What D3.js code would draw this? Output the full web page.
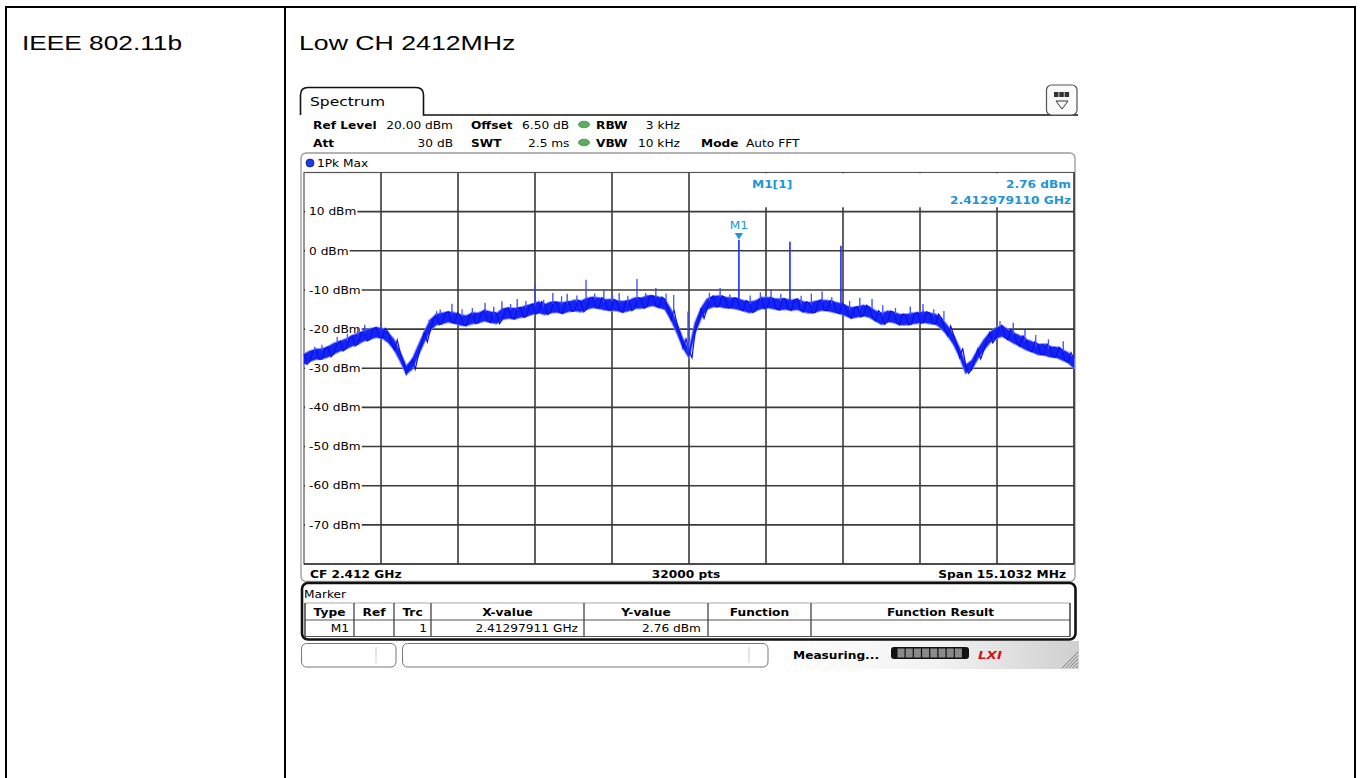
<!DOCTYPE html>
<html><head><meta charset="utf-8">
<script src="https://cdn.jsdelivr.net/npm/d3@7"></script>
<style>html,body{margin:0;padding:0;background:#fff;overflow:hidden}</style>
</head><body><svg id="c" width="1362" height="778"></svg>
<script>
// ---------------- data ----------------
const pageLabels = ["IEEE 802.11b", "Low CH 2412MHz"];
const centerGHz = 2.412;
const spanMHz = 15.1032;
const sweepPoints = 32000;
const refLevel = 20;
const bottomLevel = -80;
const yTicks = [10, 0, -10, -20, -30, -40, -50, -60, -70];
const yTickLabels = ["10 dBm", "0 dBm", "-10 dBm", "-20 dBm", "-30 dBm", "-40 dBm", "-50 dBm", "-60 dBm", "-70 dBm"];
// trace noise band (dBm): upper and lower edge, 129 evenly spaced samples across the span
const traceUpper = [
 -26.4,-25.6,-25.2,-25.0,-24.5,-23.6,-23.1,-22.5,-21.7,-21.0,
 -20.5,-19.9,-19.6,-19.8,-20.9,-22.8,-26.0,-29.4,-27.7,-24.2,
 -20.7,-17.6,-16.2,-15.9,-15.6,-15.8,-16.4,-16.6,-15.8,-15.9,
 -15.2,-15.6,-16.0,-14.8,-14.6,-14.7,-14.5,-14.0,-13.6,-13.0,
 -13.7,-13.1,-13.1,-13.2,-13.0,-12.6,-12.9,-12.1,-11.9,-12.0,
 -12.5,-12.4,-12.8,-12.9,-12.7,-12.0,-12.1,-11.5,-11.5,-11.8,
 -12.4,-15.0,-18.6,-22.5,-25.4,-18.4,-14.7,-12.3,-11.6,-11.5,
 -11.9,-12.0,-12.2,-12.7,-13.1,-12.8,-12.0,-11.9,-12.2,-12.3,
 -12.3,-12.6,-12.3,-13.0,-13.3,-12.9,-12.6,-12.7,-13.0,-13.4,
 -14.0,-14.5,-14.3,-13.9,-14.4,-15.3,-16.1,-15.4,-15.7,-16.2,
 -16.3,-16.0,-15.8,-15.6,-15.9,-16.2,-17.3,-19.2,-21.6,-24.9,
 -29.2,-28.0,-25.2,-22.8,-20.9,-19.7,-19.1,-20.1,-21.0,-21.7,
 -22.6,-23.2,-23.9,-23.8,-24.5,-24.6,-25.3,-26.0,-27.6
];
const traceLower = [
 -29.0,-28.2,-27.7,-27.6,-27.1,-26.3,-25.6,-25.0,-24.3,-23.8,
 -23.0,-22.6,-22.1,-22.3,-23.4,-25.3,-28.2,-31.5,-30.2,-26.7,
 -23.3,-20.3,-18.9,-18.6,-18.2,-18.5,-19.0,-19.1,-18.6,-18.4,
 -17.9,-18.3,-18.6,-17.5,-17.2,-17.4,-17.0,-16.7,-16.2,-15.8,
 -16.3,-15.8,-15.7,-16.0,-15.5,-15.3,-15.6,-14.9,-14.5,-14.7,
 -15.1,-15.2,-15.3,-15.7,-15.3,-14.7,-14.7,-14.3,-14.0,-14.5,
 -15.0,-17.6,-21.0,-24.8,-27.3,-21.0,-17.3,-14.9,-14.3,-14.2,
 -14.6,-14.6,-14.9,-15.3,-15.8,-15.4,-14.8,-14.5,-14.8,-15.1,
 -14.9,-15.2,-15.0,-15.6,-15.9,-15.7,-15.2,-15.3,-15.7,-16.0,
 -16.6,-17.2,-16.9,-16.6,-17.0,-17.9,-18.8,-18.1,-18.3,-18.9,
 -18.9,-18.7,-18.5,-18.3,-18.6,-18.7,-19.9,-21.7,-24.0,-27.2,
 -31.3,-30.3,-27.6,-25.4,-23.5,-22.4,-21.8,-22.7,-23.6,-24.4,
 -25.3,-25.8,-26.5,-26.6,-27.1,-27.2,-27.9,-28.5,-30.0
];
// spurs: offset from CF (MHz) and peak level (dBm)
const spurOffsetMHz = [-7.34,-6.36,-6.04,-4.88,-4.65,-4.00,-3.83,-3.67,-3.37,-3.02,-2.67,-2.39,-2.02,-1.67,-1.37,-1.02,-0.65,-0.02,0.61,0.979,1.61,1.98,2.61,2.98,3.35,3.59,4.34,4.59,6.36,6.59,7.34];
const spurPeakDbm   = [-24.5,-18.9,-18.4,-15.0,-13.5,-13.3,-14.3,-12.9,-12.3,-8.6,-10.8,-11.0,-7.4,-9.9,-10.8,-7.2,-9.5,-15.5,-9.5,2.76,-9.9,2.3,-10.4,1.3,-12.0,-12.3,-14.2,-13.6,-18.4,-20.2,-23.1];
// small noise peaks above the band
const noiseOffsetMHz = [-7.2,-6.9,-6.7,-6.5,-5.1,-4.95,-4.45,-4.25,-3.5,-3.2,-2.85,-2.5,-2.2,-1.85,-1.5,-1.2,-0.85,-0.45,-0.3,0.4,0.8,1.2,1.4,1.8,2.2,2.4,2.8,3.15,3.8,4.05,4.8,5.0,6.1,6.8,7.05];
const noisePeakDbm   = [-24.0,-22.0,-21.2,-19.6,-17.6,-15.4,-14.9,-14.6,-13.6,-12.8,-12.5,-11.6,-11.4,-10.9,-11.2,-11.5,-10.8,-10.9,-11.3,-10.7,-11.1,-11.4,-10.6,-11.0,-11.5,-10.9,-11.8,-12.8,-13.9,-14.6,-14.9,-15.4,-17.9,-21.5,-22.6];
const markerFreqGHz = 2.41297911;
const markerLevel = 2.76;
const tableHeaders = ["Type", "Ref", "Trc", "X-value", "Y-value", "Function", "Function Result"];
const tableRow = ["M1", "", "1", "2.41297911 GHz", "2.76 dBm", "", ""];

// ---------------- drawing ----------------
const svg = d3.select("#c");
const SX = 1.22;
const UI = "'DejaVu Sans', Verdana, sans-serif";
function t(g, x, y, s, o = {}) {
  return g.append("text")
    .attr("transform", `translate(${x},${y}) scale(${o.sx || SX},1)`)
    .attr("font-family", o.ff || UI)
    .attr("font-size", o.size || 10)
    .attr("font-weight", o.bold ? "bold" : "normal")
    .attr("font-style", o.italic ? "italic" : "normal")
    .attr("text-anchor", o.anchor || "start")
    .attr("fill", o.fill || "#000")
    .text(s);
}

// page table
const pg = svg.append("g");
pg.append("line").attr("x1", 5).attr("x2", 1356).attr("y1", 7).attr("y2", 7).attr("stroke", "#000").attr("stroke-width", 2);
[6, 285, 1355].forEach(x => pg.append("line").attr("x1", x).attr("x2", x).attr("y1", 6).attr("y2", 778).attr("stroke", "#000").attr("stroke-width", 2));
t(pg, 22, 50, pageLabels[0], {ff: "Arial, 'Liberation Sans', sans-serif", size: 21, sx: 1.25});
t(pg, 299, 50, pageLabels[1], {ff: "Arial, 'Liberation Sans', sans-serif", size: 21, sx: 1.27});

// instrument frame
const ui = svg.append("g");
ui.append("path").attr("d", "M300.5,115 V95 Q300.5,87.5 308,87.5 H416 Q423.5,87.5 423.5,95 V115 H1078")
  .attr("fill", "none").attr("stroke", "#111").attr("stroke-width", 1.6);
t(ui, 310, 106, "Spectrum", {size: 12.7});
ui.append("rect").attr("x", 1046.5).attr("y", 85).attr("width", 30.5).attr("height", 30).attr("rx", 5)
  .attr("fill", "#fafafa").attr("stroke", "#555").attr("stroke-width", 1.2);
[0, 1, 2].forEach(k => ui.append("rect").attr("x", 1054 + k * 5.3).attr("y", 92).attr("width", 4.5).attr("height", 5).attr("fill", "#333"));
ui.append("path").attr("d", "M1056,101 H1068 L1062,109 Z").attr("fill", "none").attr("stroke", "#333").attr("stroke-width", 1);

// header settings
t(ui, 313, 129, "Ref Level", {bold: true});
t(ui, 453, 129, "20.00 dBm", {anchor: "end"});
t(ui, 471, 129, "Offset", {bold: true});
t(ui, 522, 129, "6.50 dB");
t(ui, 596, 129, "RBW", {bold: true});
t(ui, 680, 129, "3 kHz", {anchor: "end"});
t(ui, 313, 147, "Att", {bold: true});
t(ui, 453, 147, "30 dB", {anchor: "end"});
t(ui, 471, 147, "SWT", {bold: true});
t(ui, 528, 147, "2.5 ms");
t(ui, 596, 147, "VBW", {bold: true});
t(ui, 680, 147, "10 kHz", {anchor: "end"});
t(ui, 701, 147, "Mode", {bold: true});
t(ui, 746, 147, "Auto FFT");
[124.5, 142.5].forEach(cy => ui.append("ellipse").attr("cx", 584).attr("cy", cy).attr("rx", 5.5).attr("ry", 3.3)
  .attr("fill", "#5fae5f").attr("stroke", "#3f8a3f").attr("stroke-width", 0.8));

// trace label box + plot box
ui.append("rect").attr("x", 301).attr("y", 153).attr("width", 774).attr("height", 428.5).attr("rx", 5)
  .attr("fill", "#fff").attr("stroke", "#9a9a9a").attr("stroke-width", 1.3);
ui.append("circle").attr("cx", 310).attr("cy", 163).attr("r", 4).attr("fill", "#1d3be8").attr("stroke", "#0a1a80").attr("stroke-width", 0.8);
t(ui, 317, 167, "1Pk Max");

const x = d3.scaleLinear().domain([-spanMHz / 2, spanMHz / 2]).range([304, 1074]);
const y = d3.scaleLinear().domain([bottomLevel, refLevel]).range([564, 172.5]);

const plot = svg.append("g");
plot.append("rect").attr("x", 304).attr("y", 172.5).attr("width", 770).attr("height", 391.5)
  .attr("fill", "#fff").attr("stroke", "#555").attr("stroke-width", 1.2);
d3.range(1, 10).forEach(k => {
  const xv = x(-spanMHz / 2 + k * spanMHz / 10);
  plot.append("line").attr("x1", xv).attr("x2", xv).attr("y1", 172.5).attr("y2", 564).attr("stroke", "#3a3a3a").attr("stroke-width", 1.6);
});
yTicks.forEach((v, i) => {
  const yv = y(v);
  plot.append("line").attr("x1", 304).attr("x2", 1074).attr("y1", yv).attr("y2", yv).attr("stroke", "#3a3a3a").attr("stroke-width", 1.6);
  const bg = plot.append("rect").attr("fill", "#fff");
  const tx = t(plot, 309, yv + 3.7, yTickLabels[i]);
  const bb = tx.node().getBBox();
  bg.attr("x", 305).attr("y", yv - 6).attr("width", bb.width * SX + 5).attr("height", 12);
});
plot.append("rect").attr("x", 690).attr("y", 173.3).attr("width", 383.5).attr("height", 34).attr("fill", "#fff");
plot.append("line").attr("x1", 1074).attr("x2", 1074).attr("y1", 172.5).attr("y2", 564).attr("stroke", "#333").attr("stroke-width", 1.4);
const MB = "#2196d6";
t(plot, 752, 188, "M1[1]", {bold: true, fill: MB});
t(plot, 1071, 188, markerLevel.toFixed(2) + " dBm", {bold: true, fill: MB, anchor: "end"});
t(plot, 1071, 204, "2.412979110 GHz", {bold: true, fill: MB, anchor: "end"});

// trace band
const stepMHz = spanMHz / (traceUpper.length - 1);
const fAt = i => -spanMHz / 2 + i * stepMHz;
const band = traceUpper.map((u, i) => ({f: fAt(i), hi: u, lo: traceLower[i]}));
const area = d3.area().x(d => x(d.f)).y0(d => y(d.lo)).y1(d => y(d.hi));
// soft halo, then solid core, then zig-zag texture
plot.append("path").datum(band).attr("d", area).attr("fill", "#5566ff")
  .attr("stroke", "#6f7cff").attr("stroke-width", 2.2).attr("stroke-linejoin", "round").attr("stroke-opacity", 0.8);
plot.append("path").datum(band).attr("d", area).attr("fill", "#1424f4");
const zz = [];
band.forEach((d, i) => { zz.push([d.f, i % 2 ? d.lo : d.hi]); zz.push([d.f + stepMHz / 2, i % 2 ? d.hi : d.lo]); });
zz.pop();
plot.append("path").datum(zz).attr("d", d3.line().x(d => x(d[0])).y(d => y(d[1])))
  .attr("fill", "none").attr("stroke", "#0a10ea").attr("stroke-width", 1.2);

const idxOf = f => Math.max(0, Math.min(traceUpper.length - 1, Math.round((f + spanMHz / 2) / stepMHz)));
noiseOffsetMHz.forEach((f, i) => {
  plot.append("line").attr("x1", x(f)).attr("x2", x(f)).attr("y1", y(traceUpper[idxOf(f)]) + 2).attr("y2", y(noisePeakDbm[i]))
    .attr("stroke", "#4455ff").attr("stroke-width", 1.3);
});
spurOffsetMHz.forEach((f, i) => {
  const tall = spurPeakDbm[i] > -5;
  plot.append("line").attr("x1", x(f)).attr("x2", x(f)).attr("y1", y(traceUpper[idxOf(f)]) + 2).attr("y2", y(spurPeakDbm[i]))
    .attr("stroke", tall ? "#1a2cff" : "#3546ff").attr("stroke-width", tall ? 1.6 : 1.3);
});
// marker M1
const mx = x((markerFreqGHz - centerGHz) * 1000);
plot.append("path").attr("d", `M${mx - 4.2},${y(markerLevel) - 7} H${mx + 4.2} L${mx},${y(markerLevel) - 0.5} Z`).attr("fill", MB);
t(plot, mx, 229, "M1", {fill: MB, anchor: "middle"});

// bottom info bar
plot.append("line").attr("x1", 304).attr("x2", 1074).attr("y1", 564).attr("y2", 564).attr("stroke", "#333").attr("stroke-width", 1.4);
t(plot, 310, 577.5, "CF " + centerGHz.toFixed(3) + " GHz", {bold: true});
t(plot, 686, 577.5, sweepPoints + " pts", {bold: true, anchor: "middle"});
t(plot, 1066, 577.5, "Span " + spanMHz.toFixed(4) + " MHz", {bold: true, anchor: "end"});

// marker table
const tb = svg.append("g");
tb.append("rect").attr("x", 302).attr("y", 583).attr("width", 773.5).attr("height", 56.5).attr("rx", 6)
  .attr("fill", "#fff").attr("stroke", "#111").attr("stroke-width", 2.6);
t(tb, 304, 597.5, "Marker");
const cols = [305, 354, 394, 431, 584, 708, 811, 1070];
tb.append("line").attr("x1", 305).attr("x2", 1070).attr("y1", 603).attr("y2", 603).attr("stroke", "#aaa").attr("stroke-width", 1.2);
tb.append("line").attr("x1", 305).attr("x2", 1070).attr("y1", 620).attr("y2", 620).attr("stroke", "#555").attr("stroke-width", 1.2);
tb.append("line").attr("x1", 305).attr("x2", 1070).attr("y1", 636.5).attr("y2", 636.5).attr("stroke", "#555").attr("stroke-width", 1.2);
cols.forEach((cx, i) => tb.append("line").attr("x1", cx).attr("x2", cx).attr("y1", 603).attr("y2", 636.5)
  .attr("stroke", i === 0 || i === cols.length - 1 ? "#222" : "#444").attr("stroke-width", 1.3));
tableHeaders.forEach((h, i) => t(tb, (cols[i] + cols[i + 1]) / 2, 616, h, {bold: true, anchor: "middle"}));
const rowAnchor = [349, null, 427, 578, 701, null, null];
tableRow.forEach((v, i) => { if (v) t(tb, rowAnchor[i], 632, v, {anchor: "end"}); });

// status bar
const st = svg.append("g");
const grad = svg.append("defs").append("linearGradient").attr("id", "sg").attr("x1", "0").attr("x2", "1");
grad.append("stop").attr("offset", "0").attr("stop-color", "#ffffff");
grad.append("stop").attr("offset", "0.55").attr("stop-color", "#f2f2f2");
grad.append("stop").attr("offset", "1").attr("stop-color", "#cfcfcf");
st.append("rect").attr("x", 770).attr("y", 641).attr("width", 309).attr("height", 28).attr("fill", "url(#sg)");
st.append("rect").attr("x", 301.5).attr("y", 643.5).attr("width", 94.5).attr("height", 23.5).attr("rx", 5).attr("fill", "#fff").attr("stroke", "#777");
st.append("line").attr("x1", 376).attr("x2", 376).attr("y1", 647).attr("y2", 663).attr("stroke", "#ccc");
st.append("rect").attr("x", 402.5).attr("y", 643.5).attr("width", 365.5).attr("height", 23.5).attr("rx", 5).attr("fill", "#fff").attr("stroke", "#777");
st.append("line").attr("x1", 749).attr("x2", 749).attr("y1", 647).attr("y2", 663).attr("stroke", "#ccc");
t(st, 793, 659, "Measuring...", {bold: true});
st.append("rect").attr("x", 891).attr("y", 647).attr("width", 78).attr("height", 12).attr("rx", 3).attr("fill", "#111");
d3.range(8).forEach(k => st.append("rect").attr("x", 897.5 + k * 8.2).attr("y", 648.5).attr("width", 7).attr("height", 9).attr("fill", "#8a8a8a"));
t(st, 990, 659, "LXI", {bold: true, italic: true, fill: "#d4101c", anchor: "middle", size: 11});
d3.range(5).forEach(k => st.append("line").attr("x1", 1062 + k * 3.5).attr("y1", 668).attr("x2", 1078).attr("y2", 652 + k * 3.5).attr("stroke", "#777").attr("stroke-width", 0.9));
</script></body></html>
